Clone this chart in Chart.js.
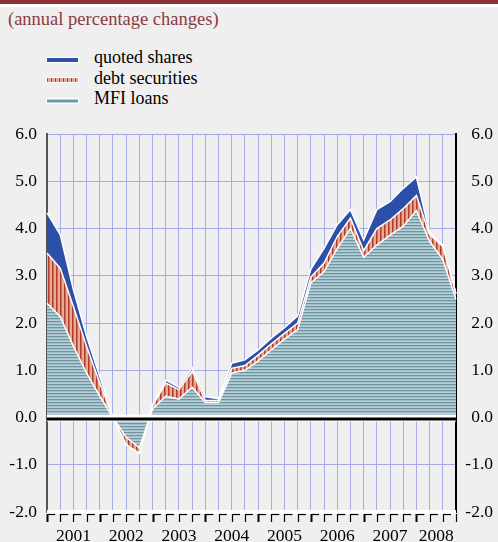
<!DOCTYPE html>
<html>
<head>
<meta charset="utf-8">
<script src="https://cdn.jsdelivr.net/npm/chart.js@4"></script>
<style>
  body { margin: 0; width: 498px; height: 542px; background: #efefef; position: relative; overflow: hidden; font-family: 'Liberation Serif', 'Times New Roman', serif; }
  #topbar { position: absolute; left: 0; top: 0; width: 498px; height: 4px; background: #8c2f36; }
  #topline { position: absolute; left: 0; top: 4px; width: 498px; height: 3px; background: #fff; }
  #subtitle { position: absolute; left: 8px; top: 9px; font-size: 18.5px; color: #8c3a3e; white-space: nowrap; }
  #legend { position: absolute; left: 46px; top: 47px; font-size: 18px; color: #000; }
  .item { position: relative; height: 20.5px; line-height: 20.5px; padding-left: 48px; white-space: nowrap; }
  .swatch { position: absolute; left: 0; top: 9.5px; width: 33px; height: 6px; box-sizing: border-box; border: 1px solid #fff; }
  canvas { position: absolute; left: 0; top: 0; }
</style>
</head>
<body>
<div id="topbar"></div>
<div id="topline"></div>
<div id="subtitle">(annual percentage changes)</div>
<div id="legend">
  <div class="item"><span class="swatch" style="background:#2c4fa7"></span>quoted shares</div>
  <div class="item"><span class="swatch" style="background:repeating-linear-gradient(90deg,#b5412f 0 1px,#e4ab95 1px 4px)"></span>debt securities</div>
  <div class="item"><span class="swatch" style="background:linear-gradient(#b8ced5 0 1.5px,#6e98a4 1.5px 3px,#b8ced5 3px)"></span>MFI loans</div>
</div>
<canvas id="financingChart" width="498" height="542"></canvas>
<script>
// quarter-end observations, 2000 Q4 to 2008 Q3
const quarters = [
    '2000Q4',
    '2001Q1', '2001Q2', '2001Q3', '2001Q4',
    '2002Q1', '2002Q2', '2002Q3', '2002Q4',
    '2003Q1', '2003Q2', '2003Q3', '2003Q4',
    '2004Q1', '2004Q2', '2004Q3', '2004Q4',
    '2005Q1', '2005Q2', '2005Q3', '2005Q4',
    '2006Q1', '2006Q2', '2006Q3', '2006Q4',
    '2007Q1', '2007Q2', '2007Q3', '2007Q4',
    '2008Q1', '2008Q2', '2008Q3'
];
const years = ['2001', '2002', '2003', '2004', '2005', '2006', '2007', '2008'];

// contributions (percentage points)
const mfiLoans = [2.42, 2.14, 1.51, 0.94, 0.45, 0.00, -0.42, -0.64,
    0.18, 0.45, 0.39, 0.64, 0.32, 0.32, 0.94, 1.00,
    1.20, 1.43, 1.66, 1.86, 2.85, 3.09, 3.58, 4.00,
    3.39, 3.65, 3.86, 4.05, 4.38, 3.73, 3.34, 2.50];
const debtSecurities = [1.06, 1.02, 0.84, 0.57, 0.28, 0.00, -0.15, -0.12,
    0.07, 0.28, 0.20, 0.34, 0.04, 0.04, 0.10, 0.10,
    0.12, 0.13, 0.12, 0.14, 0.12, 0.18, 0.25, 0.22,
    0.14, 0.35, 0.32, 0.37, 0.32, 0.14, 0.28, 0.12];
const quotedShares = [0.85, 0.71, 0.36, 0.21, 0.14, 0.00, 0.00, 0.00,
    0.02, 0.06, 0.05, 0.07, 0.08, 0.04, 0.11, 0.12,
    0.11, 0.12, 0.12, 0.15, 0.17, 0.31, 0.25, 0.18,
    0.23, 0.40, 0.39, 0.43, 0.39, 0.04, 0.02, 0.00];

const gridColor = '#a6aae6';
const serif = "'Liberation Serif', 'Times New Roman', serif";

function makePattern(w, h, paint) {
    const c = document.createElement('canvas');
    c.width = w;
    c.height = h;
    paint(c.getContext('2d'));
    return c.getContext('2d').createPattern(c, 'repeat');
}

// horizontal stripes for loans, vertical stripes for debt securities
const loansFill = makePattern(1, 3, function (g) {
    g.fillStyle = '#b8ced6'; g.fillRect(0, 0, 1, 3);
    g.fillStyle = '#6b96a3'; g.fillRect(0, 0, 1, 1);
    g.fillStyle = '#a3bec7'; g.fillRect(0, 1, 1, 1);
});
const debtFill = makePattern(4, 1, function (g) {
    g.fillStyle = '#e4ab95'; g.fillRect(0, 0, 4, 1);
    g.fillStyle = '#b33b2b'; g.fillRect(0, 0, 1, 1);
    g.fillStyle = '#cc705a'; g.fillRect(1, 0, 1, 1);
});

// thick zero line and the small quarter ticks under the plot
const axisDecor = {
    id: 'axisDecor',
    afterDatasetsDraw(chart) {
        const ctx = chart.ctx;
        const area = chart.chartArea;
        const y0 = chart.scales.y.getPixelForValue(0);
        ctx.save();
        ctx.fillStyle = '#fff';
        ctx.fillRect(area.left, y0 - 3, area.right - area.left, 7);
        ctx.fillStyle = '#000';
        ctx.fillRect(area.left, y0, area.right - area.left, 3);
        ctx.restore();
    },
    afterDraw(chart) {
        const ctx = chart.ctx;
        const area = chart.chartArea;
        const xs = chart.scales.x;
        const b = area.bottom;
        ctx.save();
        ctx.fillStyle = '#fff';
        ctx.fillRect(area.left, b - 2, area.right - area.left, 4);
        ctx.strokeStyle = '#000';
        for (let i = 0; i < quarters.length; i++) {
            const x = Math.round(xs.getPixelForValue(i)) + 0.5;
            const step = i < quarters.length - 1 ? xs.getPixelForValue(i + 1) - x : 0;
            ctx.lineWidth = i % 4 === 0 ? 2 : 1.2;
            ctx.beginPath();
            ctx.moveTo(x, b + 2);
            ctx.lineTo(x, b + 10);
            ctx.stroke();
            ctx.lineWidth = 1.2;
            ctx.beginPath();
            ctx.moveTo(x, b + 2.5);
            ctx.lineTo(x + step * 0.6, b + 2.5);
            ctx.stroke();
        }
        ctx.restore();
    }
};

const ctx = document.getElementById('financingChart').getContext('2d');

new Chart(ctx, {
    type: 'line',
    data: {
        labels: quarters,
        datasets: [
            {
                label: 'MFI loans',
                data: mfiLoans,
                fill: 'origin',
                backgroundColor: loansFill,
                borderColor: '#fff',
                borderWidth: 1.5,
                pointRadius: 0,
                tension: 0
            },
            {
                label: 'debt securities',
                data: debtSecurities,
                fill: '-1',
                backgroundColor: debtFill,
                borderColor: '#fff',
                borderWidth: 1.5,
                pointRadius: 0,
                tension: 0
            },
            {
                label: 'quoted shares',
                data: quotedShares,
                fill: '-1',
                backgroundColor: '#2c4fa7',
                borderColor: '#fff',
                borderWidth: 1.5,
                pointRadius: 0,
                tension: 0
            }
        ]
    },
    options: {
        responsive: false,
        animation: false,
        layout: { padding: { top: 134, right: 5, left: 0, bottom: 0 } },
        plugins: {
            legend: { display: false },
            tooltip: { enabled: false }
        },
        scales: {
            x: {
                type: 'category',
                offset: false,
                position: 'bottom',
                grid: { color: gridColor, drawTicks: false },
                border: { display: false },
                ticks: { display: false, autoSkip: false },
                afterFit: function (s) { s.height = 8; }
            },
            xYear: {
                type: 'linear',
                position: 'bottom',
                weight: 1,
                min: 0,
                max: quarters.length - 1,
                grid: { display: false, drawTicks: false },
                border: { display: false },
                afterBuildTicks: function (s) {
                    // centre each year label over the quarters it covers
                    s.ticks = years.map(function (y, k) {
                        const end = Math.min(4 * k + 4, quarters.length - 1);
                        return { value: (4 * k + end) / 2 };
                    });
                },
                ticks: {
                    autoSkip: false,
                    maxRotation: 0,
                    padding: 6,
                    color: '#000',
                    font: { family: serif, size: 17.5 },
                    callback: function (value, index) { return years[index]; }
                },
                afterFit: function (s) { s.height = 22; }
            },
            y: {
                position: 'left',
                stacked: true,
                min: -2,
                max: 6,
                grid: { color: gridColor, drawTicks: false },
                border: { color: '#555', width: 2 },
                ticks: {
                    stepSize: 1,
                    padding: 10,
                    color: '#000',
                    font: { family: serif, size: 17.5 },
                    callback: function (value) { return value.toFixed(1); }
                },
                afterFit: function (s) { s.width = 47; }
            },
            y2: {
                position: 'right',
                min: -2,
                max: 6,
                grid: { display: false, drawTicks: false },
                border: { color: '#000', width: 2 },
                ticks: {
                    stepSize: 1,
                    crossAlign: 'far',
                    color: '#000',
                    font: { family: serif, size: 17.5 },
                    callback: function (value) { return value.toFixed(1); }
                },
                afterFit: function (s) { s.width = 37; }
            }
        }
    },
    plugins: [axisDecor]
});
</script>
</body>
</html>
